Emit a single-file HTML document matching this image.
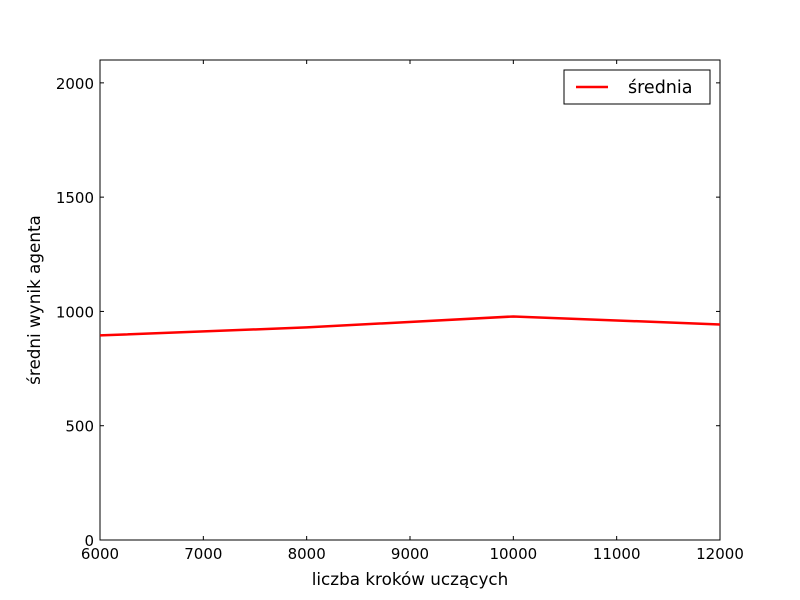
<!DOCTYPE html>
<html><head><meta charset="utf-8"><style>body{margin:0;background:#fff}svg{display:block}text{font-family:"DejaVu Sans","Liberation Sans",sans-serif}</style></head>
<body>
<svg id="chart" width="800" height="600"></svg>
<script>
const xValues=[6000,8000,10000,12000];
const seriesMean=[895,930,978,943];
const xTicks=[6000,7000,8000,9000,10000,11000,12000];
const yTicks=[0,500,1000,1500,2000];
const L=100,R=720,T=60,B=540;
const sx=v=>L+(v-6000)/6000*(R-L);
const sy=v=>B-v/2100*(B-T);
const svg=document.getElementById('chart');
const NS='http://www.w3.org/2000/svg';
function mk(tag,attrs,parent){const e=document.createElementNS(NS,tag);for(const k in attrs)e.setAttribute(k,attrs[k]);(parent||svg).appendChild(e);return e;}
const frame=mk('rect',{x:L,y:T,width:R-L,height:B-T,fill:'none',stroke:'#000','stroke-width':1});


xTicks.forEach(v=>{const x=sx(v);
mk('line',{x1:x,x2:x,y1:B,y2:B-4,stroke:'#000'});mk('line',{x1:x,x2:x,y1:T,y2:T+4,stroke:'#000'});
const t=mk('text',{x:x,y:B+19,'text-anchor':'middle','font-size':15});t.textContent=v;

});
yTicks.forEach(v=>{const y=sy(v);
mk('line',{x1:L,x2:L+4,y1:y,y2:y,stroke:'#000'});mk('line',{x1:R,x2:R-4,y1:y,y2:y,stroke:'#000'});
const t=mk('text',{x:L-6,y:y+6,'text-anchor':'end','font-size':15});t.textContent=v;

});
const line=mk('polyline',{points:xValues.map((x,i)=>sx(x)+','+sy(seriesMean[i])).join(' '),fill:'none',stroke:'#f00','stroke-width':2.5});


const xt=mk('text',{x:410,y:585,'text-anchor':'middle','font-size':16.8});xt.textContent='liczba kroków uczących';


const yt=mk('text',{x:0,y:0,'text-anchor':'middle','font-size':16.8,transform:'translate(40,300) rotate(-90)'});yt.textContent='średni wynik agenta';


const lg=mk('g',{});


mk('rect',{x:564,y:70,width:146,height:34,fill:'#fff',stroke:'#000'},lg);
mk('line',{x1:576,x2:608,y1:87,y2:87,stroke:'#f00','stroke-width':2.5},lg);
const lt=mk('text',{x:628,y:93,'font-size':17.5},lg);lt.textContent='średnia';


</script>
</body></html>
